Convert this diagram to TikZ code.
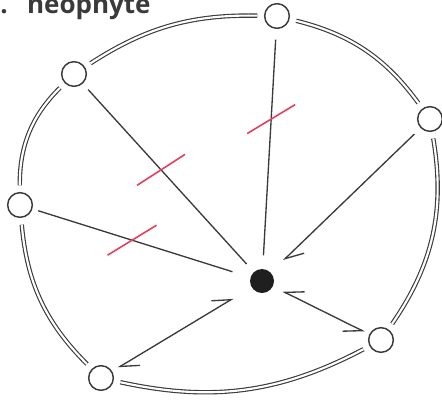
\documentclass[tikz,border=0pt]{standalone}
\usepackage{fontspec}
\setmainfont{Open Sans}
\usepackage{xcolor}
\usetikzlibrary{arrows.meta, calc}
\definecolor{inkgray}{HTML}{3A3A3A}
\definecolor{cutred}{HTML}{E2405E}

\begin{document}
\begin{tikzpicture}[x=0.75pt, y=-0.75pt,
  member/.style={circle, draw=inkgray, line width=1.1pt, minimum size=18.5pt, inner sep=0pt},
  hub/.style={circle, fill=black!88, minimum size=18pt, inner sep=0pt},
  ring/.style={draw=inkgray, line width=0.85pt, double=white, double distance=1.6pt, shorten <=5pt, shorten >=5pt},
  link/.style={draw=inkgray, line width=1pt},
  cut/.style={draw=cutred, line width=1.2pt},
  barbL/.tip={Straight Barb[harpoon, length=13pt, angle'=56]},
  barbR/.tip={Straight Barb[harpoon, swap, length=13pt, angle'=56]}]
\useasboundingbox (0,0) rectangle (442,401);
\clip (0,0) rectangle (442,401);

% Title
\node[anchor=base west, inner sep=0pt, text=inkgray, font=\fontsize{19.5}{21}\selectfont\bfseries] (title) at (0,13) {. \hspace{0.4em}neophyte};

% Members on the ring
\node[member] (T) at (277,16) {};
\node[member] (UL) at (74,74) {};
\node[member] (R) at (430,119) {};
\node[member] (L) at (20,205) {};
\node[member] (LR) at (381,340) {};
\node[member] (B) at (101,378) {};

% Hub
\node[hub] (H) at (262,281) {};

% Ring
\draw[ring] (T) to[bend left=20] (R);
\draw[ring] (R) to[bend left=22] (LR);
\draw[ring] (LR) to[bend left=20] (B);
\draw[ring] (B) to[bend left=20] (L);
\draw[ring] (L) to[bend left=23] (UL);
\draw[ring] (UL) to[bend left=17] (T);

% Links to the hub
\draw[link, shorten <=6pt, shorten >=8pt] (UL) -- (H);
\draw[link, shorten <=8pt, shorten >=10pt] (T) -- (H);
\draw[link, shorten <=4.5pt, shorten >=14pt] (L) -- (H);
\draw[link, -barbL, shorten <=6.5pt, shorten >=13pt] (R) -- (H);
\draw[link, barbL-barbL, shorten <=5pt, shorten >=16pt] (B) -- (H);
\draw[link, barbR-barbR, shorten <=4pt, shorten >=8pt] (LR) -- (H);

% Cut marks
\coordinate (cUL) at ($(UL)!0.463!(H)$);
\coordinate (cT) at ($(T)!0.389!(H)$);
\coordinate (cL) at ($(L)!0.463!(H)$);
\draw[cut] (cUL) +(-24,15.5) -- +(24,-15.5);
\draw[cut] (cT) +(-24,14.5) -- +(24,-14.5);
\draw[cut] (cL) +(-24.5,15) -- +(24.5,-15);
\end{tikzpicture}
\end{document}
